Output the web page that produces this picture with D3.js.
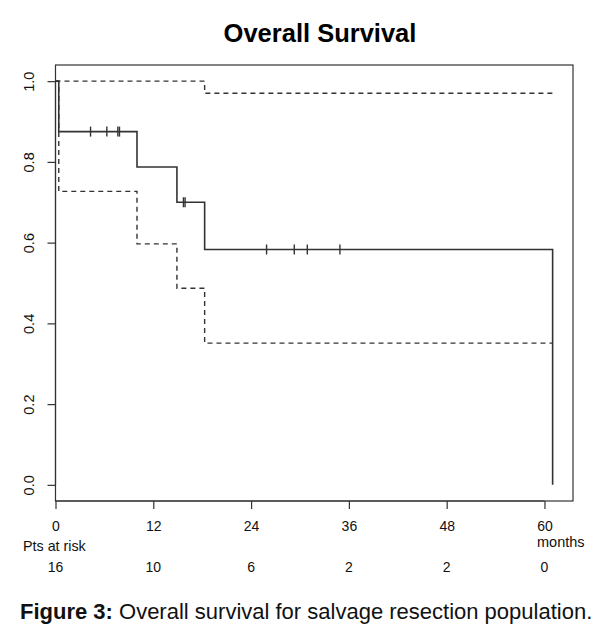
<!DOCTYPE html>
<html>
<head>
<meta charset="utf-8">
<script src="https://cdn.jsdelivr.net/npm/d3@7"></script>
<style>
  body { margin: 0; background: #fff; }
  svg { display: block; font-family: "Liberation Sans", Arial, sans-serif; }
  .box { fill: none; stroke: #333; stroke-width: 1.2; }
  .axis path, .axis line { stroke: #333; stroke-width: 1.2; }
  .axis text { fill: #111; font-size: 14px; font-family: "Liberation Sans", Arial, sans-serif; }
  .Surv { fill: none; stroke: #333; stroke-width: 1.6; }
  .Ci { fill: none; stroke: #333; stroke-width: 1.4; stroke-dasharray: 5 4; }
  .Censor { stroke: #333; stroke-width: 1.4; }
</style>
</head>
<body>
<svg id="chart" width="610" height="640"></svg>
<script>
// Kaplan-Meier estimate (months, survival).
const stepTimes = [0, 0.4, 10, 14.9, 18.3, 61];
const survival = [1, 0.875, 0.7875, 0.7, 0.583, 0];
// 95% CI bands, last value held until the end of follow-up.
const upperCi = [1, 1, 1, 1, 0.97, 0.97];
const lowerCi = [1, 0.727, 0.597, 0.487, 0.351, 0.351];
// Censored patients (tick marks on the curve).
const censorTimes = [4.3, 6.3, 7.65, 7.85, 15.7, 15.9, 25.9, 29.3, 30.9, 34.9];
// Patients at risk table.
const riskTimes = [0, 12, 24, 36, 48, 60];
const riskCounts = [16, 10, 6, 2, 2, 0];
const yTicks = [0, 0.2, 0.4, 0.6, 0.8, 1.0];

const svg = d3.select("#chart");
const margin = {top: 65, right: 37, bottom: 139, left: 55.5};
const width = 610, height = 640;
const innerWidth = width - margin.left - margin.right;
const innerHeight = height - margin.top - margin.bottom;

const xScale = d3.scaleLinear().domain([0, 63.5]).range([0, innerWidth]);
const yScale = d3.scaleLinear().domain([-0.04, 1.04]).range([innerHeight, 0]);

const g = svg.append("g").attr("transform", `translate(${margin.left}, ${margin.top})`);

// Title.
svg.append("text")
  .attr("x", 320).attr("y", 42)
  .attr("text-anchor", "middle")
  .style("font-size", "25.5px").style("font-weight", "bold")
  .text("Overall Survival");

// Frame.
g.append("rect").attr("class", "box")
  .attr("width", innerWidth).attr("height", innerHeight);

// Axes.
const xAxis = d3.axisBottom(xScale)
  .tickValues(riskTimes)
  .tickSizeInner(8).tickSizeOuter(0).tickPadding(12);
g.append("g").attr("class", "axis")
  .attr("transform", `translate(0, ${innerHeight})`)
  .call(xAxis)
  .call((a) => a.select(".domain").attr("d", `M${xScale(0)},0H${xScale(60)}`));

const yAxis = d3.axisLeft(yScale)
  .tickValues(yTicks)
  .tickFormat(d3.format(".1f"))
  .tickSizeInner(8).tickSizeOuter(0);
const gY = g.append("g").attr("class", "axis").call(yAxis);
gY.select(".domain").attr("d", `M0,${yScale(0)}V${yScale(1)}`);
gY.selectAll(".tick text")
  .attr("x", null).attr("dy", null)
  .attr("text-anchor", "middle")
  .style("font-size", "14.5px")
  .attr("transform", "translate(-21.5, 0) rotate(-90)");

// Curves.
const stepLine = (vals) => d3.line()
  .x((d, i) => xScale(stepTimes[i]))
  .y((d) => yScale(d))
  .curve(d3.curveStepAfter)(vals);

g.append("path").attr("class", "Ci").attr("d", stepLine(upperCi));
g.append("path").attr("class", "Ci").attr("d", stepLine(lowerCi));
g.append("path").attr("class", "Surv").attr("d", stepLine(survival));

// Censor marks, placed on the step at that time.
const survAt = (t) => survival[d3.bisectRight(stepTimes, t) - 1];
g.selectAll(".Censor").data(censorTimes).join("line")
  .attr("class", "Censor")
  .attr("x1", (t) => xScale(t)).attr("x2", (t) => xScale(t))
  .attr("y1", (t) => yScale(survAt(t)) - 5)
  .attr("y2", (t) => yScale(survAt(t)) + 5);

// Risk table.
svg.append("text")
  .attr("x", 23).attr("y", 551)
  .style("font-size", "14.3px").style("fill", "#111")
  .text("Pts at risk");
svg.append("text")
  .attr("x", 537).attr("y", 547)
  .style("font-size", "14.5px").style("fill", "#111")
  .text("months");
svg.selectAll(".Risk").data(riskTimes).join("text")
  .attr("class", "Risk")
  .attr("x", (t) => margin.left + xScale(t))
  .attr("y", 572)
  .attr("text-anchor", "middle")
  .style("font-size", "14px").style("fill", "#111")
  .text((t, i) => riskCounts[i]);

// Caption.
const cap = svg.append("text")
  .attr("x", 20).attr("y", 619)
  .style("font-size", "22px").style("fill", "#111");
cap.append("tspan").style("font-weight", "bold").text("Figure 3:");
cap.append("tspan").text(" Overall survival for salvage resection population.");
</script>
</body>
</html>
